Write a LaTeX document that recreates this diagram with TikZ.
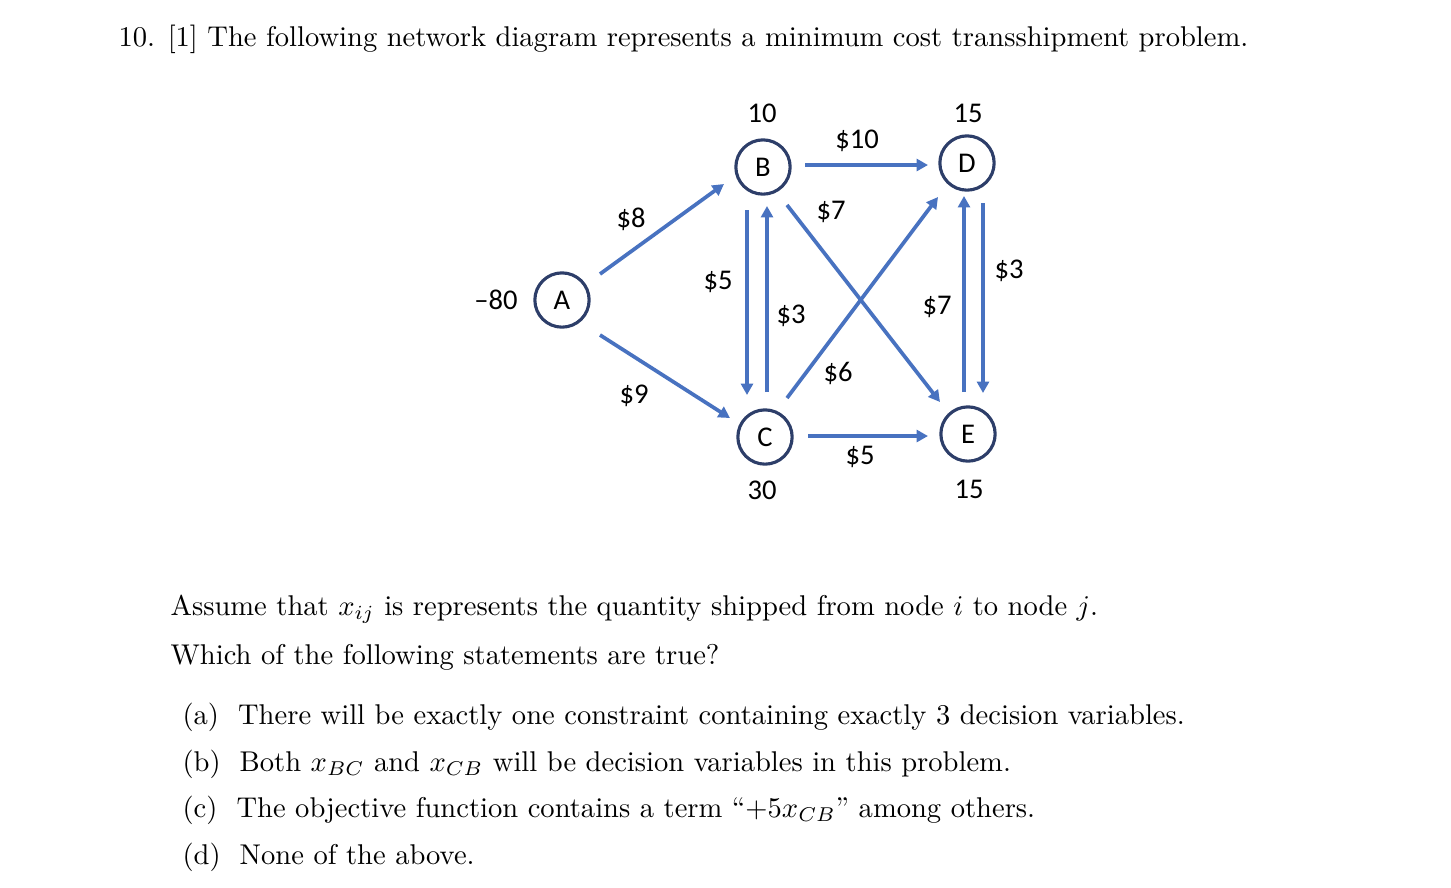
\documentclass[tikz,border=0pt]{standalone}
\usepackage{fontspec}
\newfontfamily\carlfont{Carlito}
\usetikzlibrary{arrows.meta}
\definecolor{arr}{RGB}{72,114,192}
\definecolor{nav}{RGB}{45,62,105}
\begin{document}
\begin{tikzpicture}[x=0.35pt,y=-0.35pt,
  nd/.style={circle,draw=nav,line width=1.1pt,minimum size=19pt,inner sep=0pt,font=\carlfont\fontsize{10}{12}\selectfont},
  lb/.style={font=\carlfont\fontsize{10}{12}\selectfont,inner sep=0pt},
  ar/.style={draw=arr,line width=1.3pt,-{Triangle[length=4pt,width=4.2pt]}},
  tx/.style={anchor=west,inner sep=0pt,font=\fontsize{10}{12}\selectfont}]
\useasboundingbox (0,0) rectangle (1451,887);
\node[tx] (h) at (118,39) {10. [1] The following network diagram represents a minimum cost transshipment problem.};
\node[nd] (A) at (562,300) {A};
\node[nd] (B) at (763,167) {B};
\node[nd] (C) at (765,437) {C};
\node[nd] (D) at (967,163) {D};
\node[nd] (E) at (968,434) {E};
\coordinate (a1) at (600,274); \coordinate (a2) at (724,184);
\coordinate (a3) at (600,335); \coordinate (a4) at (730,418);
\coordinate (b1) at (805,165); \coordinate (b2) at (928,165);
\coordinate (b3) at (747,210); \coordinate (b4) at (747,395);
\coordinate (c1) at (767,392); \coordinate (c2) at (767,206);
\coordinate (b5) at (787,205); \coordinate (b6) at (940,402);
\coordinate (c3) at (787,398); \coordinate (c4) at (938,197);
\coordinate (d1) at (983,203); \coordinate (d2) at (983,393);
\coordinate (e1) at (964,392); \coordinate (e2) at (964,196);
\coordinate (c5) at (808,436); \coordinate (c6) at (928,436);
\draw[ar] (a1) -- (a2); \draw[ar] (a3) -- (a4);
\draw[ar] (b1) -- (b2); \draw[ar] (b3) -- (b4);
\draw[ar] (c1) -- (c2); \draw[ar] (b5) -- (b6);
\draw[ar] (c3) -- (c4); \draw[ar] (d1) -- (d2);
\draw[ar] (e1) -- (e2); \draw[ar] (c5) -- (c6);
\node[lb] (l1) at (631,219) {\$8};
\node[lb] (l2) at (634,396) {\$9};
\node[lb] (l3) at (857,141) {\$10};
\node[lb] (l4) at (831,212) {\$7};
\node[lb] (l5) at (718,282) {\$5};
\node[lb] (l6) at (791,316) {\$3};
\node[lb] (l7) at (838,373) {\$6};
\node[lb] (l8) at (937,307) {\$7};
\node[lb] (l9) at (1009,271) {\$3};
\node[lb] (l10) at (860,457) {\$5};
\node[lb] (s1) at (762,113) {10};
\node[lb] (s2) at (968,113) {15};
\node[lb] (s3) at (496,300) {–80};
\node[lb] (s4) at (762,490) {30};
\node[lb] (s5) at (969,489) {15};
\node[tx] (t1) at (170,609) {Assume that $x_{ij}$ is represents the quantity shipped from node $i$ to node $j$.};
\node[tx] (t2) at (170,657) {Which of the following statements are true?};
\node[tx] (o1) at (182,717) {(a)\ \ There will be exactly one constraint containing exactly 3 decision variables.};
\node[tx] (o2) at (182,764) {(b)\ \ Both $x_{BC}$ and $x_{CB}$ will be decision variables in this problem.};
\node[tx] (o3) at (182,810) {(c)\ \ The objective function contains a term ``$+5x_{CB}$'' among others.};
\node[tx] (o4) at (182,857) {(d)\ \ None of the above.};
\end{tikzpicture}
\end{document}
